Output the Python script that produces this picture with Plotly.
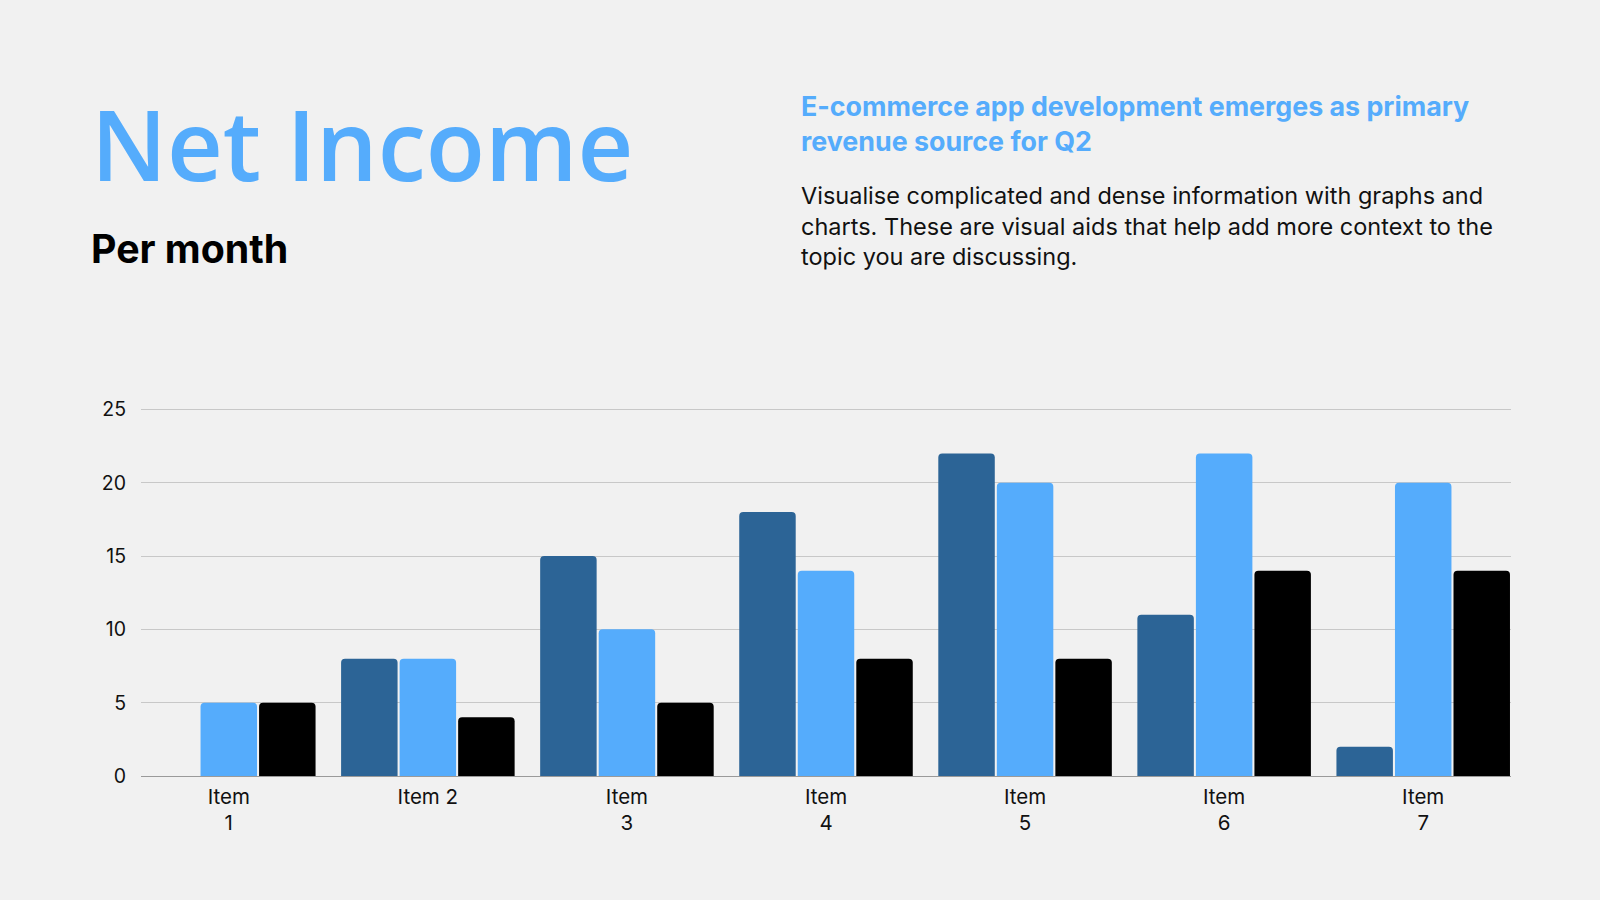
import plotly.graph_objects as go

# Chart data
items = ["Item 1", "Item 2", "Item 3", "Item 4", "Item 5", "Item 6", "Item 7"]
tick_labels = ["Item<br>1", "Item 2", "Item<br>3", "Item<br>4", "Item<br>5", "Item<br>6", "Item<br>7"]
series_1 = [0, 8, 15, 18, 22, 11, 2]
series_2 = [5, 8, 10, 14, 20, 22, 20]
series_3 = [5, 4, 5, 8, 8, 14, 14]
y_ticks = [0, 5, 10, 15, 20, 25]

# Page size and plot area (pixels)
W, H = 1600, 900
L, R, T, B = 141, 89, 405, 124
plot_w = W - L - R
plot_h = H - T - B

def px(x):
    return (x - L) / plot_w

def py(y):
    return (H - B - y) / plot_h

fig = go.Figure()

colors = ["#2C6496", "#55ACFC", "#000000"]
for name, vals, col in zip(["Series 1", "Series 2", "Series 3"], [series_1, series_2, series_3], colors):
    fig.add_trace(go.Bar(
        x=items, y=vals, name=name,
        marker=dict(color=col, cornerradius=4, line=dict(width=0)),
        hoverinfo="x+y+name"
    ))

# Text blocks
fig.add_annotation(text="Net Income", x=px(89), y=py(143), xref="paper", yref="paper",
                   xanchor="left", yanchor="middle", showarrow=False,
                   font=dict(family="Open Sans", size=97, color="#55ACFC", weight=600))
fig.add_annotation(text="<b>Per month</b>", x=px(89), y=py(248), xref="paper", yref="paper",
                   xanchor="left", yanchor="middle", showarrow=False,
                   font=dict(family="Inter", size=39.3, color="#000000"))
fig.add_annotation(text="<b>E-commerce app development emerges as primary<br>revenue source for Q2</b>",
                   x=px(799), y=py(123), xref="paper", yref="paper",
                   xanchor="left", yanchor="middle", align="left", showarrow=False,
                   font=dict(family="Inter", size=26.8, color="#55ACFC"))
fig.add_annotation(text="Visualise complicated and dense information with graphs and<br>"
                        "charts. These are visual aids that help add more context to the<br>"
                        "topic you are discussing.",
                   x=px(799), y=py(226), xref="paper", yref="paper",
                   xanchor="left", yanchor="middle", align="left", showarrow=False,
                   font=dict(family="Inter", size=23.5, color="#111111"))

fig.update_layout(
    width=W, height=H,
    paper_bgcolor="#F1F1F1", plot_bgcolor="#F1F1F1",
    margin=dict(l=L, r=R, t=T, b=B),
    barmode="group", bargap=0.118, bargroupgap=0.035,
    showlegend=False,
    font=dict(family="Inter", size=20, color="#111111"),
    xaxis=dict(
        tickmode="array", tickvals=items, ticktext=tick_labels,
        range=[-0.441, 6.441],
        showgrid=False, showline=False, ticks="",
        ticklabelstandoff=6,
        tickfont=dict(family="Inter", size=20.5, color="#111111"),
    ),
    yaxis=dict(
        range=[0, 25.3], tickvals=y_ticks, showgrid=True, gridcolor="#C8C8C8", gridwidth=1,
        zeroline=True, zerolinecolor="#9A9A9A", zerolinewidth=1, ticks="",
        ticklabelstandoff=14,
        tickfont=dict(family="Inter", size=19.5, color="#111111"),
    ),
)

fig.write_html("out.html", config={"displayModeBar": False},
               post_script="document.body.style.margin='0';")
